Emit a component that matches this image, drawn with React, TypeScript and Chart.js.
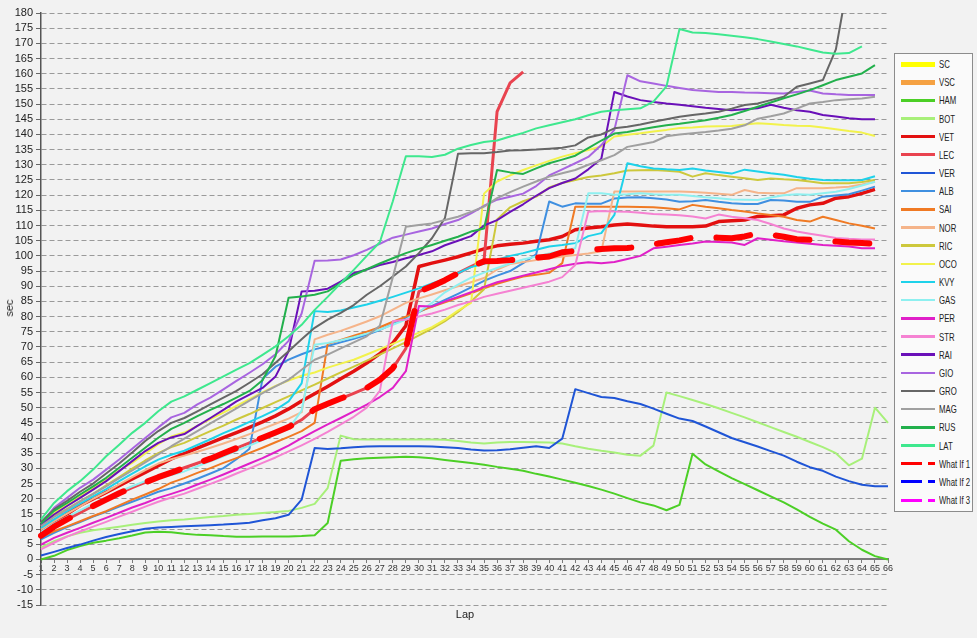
import React, { useEffect, useRef } from "react";
import { Chart, registerables } from "chart.js";

Chart.register(...registerables);

const FONT = "'Liberation Sans', Arial, Helvetica, sans-serif";

const LAPS: string[] = Array.from({ length: 66 }, (_, i) => String(i + 1));
const Y_MIN = -15;
const Y_MAX = 180;
const Y_STEP = 5;

const SC: number[] = [];
const VSC: number[] = [];
const HAM = [0, 1.2, 3.1, 4.4, 5.5, 6.2, 7.0, 7.9, 8.9, 9.1, 9.0, 8.5, 8.1, 8.0, 7.7, 7.5, 7.5, 7.6, 7.6, 7.6, 7.7, 8.0, 12.0, 32.5, 33.0, 33.3, 33.5, 33.7, 33.8, 33.7, 33.3, 32.8, 32.3, 31.8, 31.2, 30.5, 29.9, 29.2, 28.2, 27.3, 26.3, 25.3, 24.2, 23.0, 21.7, 20.2, 18.8, 17.8, 16.2, 18.0, 34.8, 31.3, 29.0, 26.8, 24.8, 22.8, 20.8, 18.8, 16.5, 14.0, 11.8, 9.8, 6.0, 3.2, 1.1, 0];
const BOT = [4.0, 6.0, 7.6, 8.8, 9.6, 10.2, 10.8, 11.4, 12.0, 12.5, 12.9, 13.2, 13.6, 14.0, 14.3, 14.7, 15.0, 15.3, 15.6, 16.0, 17.0, 18.3, 23.5, 40.8, 39.6, 39.5, 39.5, 39.5, 39.5, 39.5, 39.5, 39.4, 39.0, 38.5, 38.2, 38.5, 38.7, 38.7, 38.6, 38.5, 38.2, 37.3, 36.5, 35.8, 35.2, 34.5, 34.2, 37.5, 55.0, 53.8, 52.5, 51.2, 49.8, 48.3, 46.8, 45.2, 43.6, 42.0, 40.4, 38.7, 37.0, 35.0, 31.0, 33.2, 50.0, 45.0];
const VET = [9.0, 12.3, 15.0, 17.8, 19.9, 22.1, 24.3, 26.5, 28.7, 30.9, 33.1, 34.9, 36.7, 38.4, 40.1, 41.8, 43.5, 45.3, 47.3, 49.6, 52.2, 54.6, 57.0, 59.5, 62.0, 64.7, 67.8, 71.3, 77.0, 96.5, 97.6, 98.6, 99.7, 101.0, 102.3, 103.3, 103.8, 104.2, 104.8, 105.3, 106.4, 108.6, 109.2, 109.6, 110.2, 110.5, 110.2, 109.8, 109.6, 109.6, 109.6, 109.8, 111.3, 111.6, 111.8, 113.0, 113.2, 113.5, 115.7, 116.8, 117.3, 119.0, 119.5, 120.6, 121.9];
const LEC = [7.8, 10.8, 13.2, 15.4, 17.6, 19.7, 21.8, 23.7, 25.4, 27.1, 28.6, 30.2, 31.7, 33.2, 35.0, 36.7, 38.4, 40.1, 41.8, 43.6, 46.0, 49.5, 51.3, 53.0, 54.7, 56.5, 59.2, 63.0, 69.5, 88.2, 90.0, 92.0, 94.3, 96.5, 98.5, 147.5, 157.0, 160.6];
const VER = [1.3, 2.5, 3.8, 4.9, 6.2, 7.4, 8.4, 9.3, 10.1, 10.5, 10.7, 10.9, 11.1, 11.3, 11.5, 11.8, 12.1, 12.9, 13.6, 14.7, 19.7, 36.7, 36.4, 36.6, 37.0, 37.2, 37.3, 37.3, 37.3, 37.3, 37.2, 37.0, 36.7, 36.2, 35.9, 36.0, 36.3, 36.8, 37.3, 36.7, 39.8, 56.1, 54.8, 53.5, 53.2, 52.1, 51.2, 49.7, 48.0, 46.4, 45.6, 43.8, 41.9, 40.0, 38.6, 37.2, 35.7, 34.2, 32.2, 30.4, 29.2, 27.3, 25.8, 24.6, 24.1, 24.1];
const ALB = [6.6, 8.8, 10.7, 12.3, 14.1, 15.7, 17.4, 19.0, 20.6, 22.3, 23.5, 25.0, 26.6, 28.3, 30.1, 33.0, 36.5, 59.5, 63.5, 65.8, 67.6, 69.2, 70.3, 71.5, 72.7, 74.0, 75.6, 77.5, 79.5, 81.5, 83.5, 85.5, 87.5, 89.6, 91.8, 93.5, 95.0, 97.6, 100.5, 117.9, 116.2, 117.3, 117.2, 117.2, 118.9, 119.2, 119.3, 119.0, 118.6, 117.8, 118.0, 118.4, 117.8, 117.3, 117.1, 117.1, 118.4, 118.2, 117.8, 117.8, 119.5, 119.9, 120.3, 121.5, 122.8];
const SAI = [7.4, 9.3, 10.9, 12.6, 14.3, 15.9, 17.8, 19.7, 21.4, 23.2, 25.3, 26.8, 28.5, 30.1, 31.8, 33.4, 35.1, 36.8, 38.6, 40.4, 42.3, 45.0, 71.0, 72.3, 73.7, 75.0, 76.5, 78.3, 80.0, 81.7, 83.2, 84.7, 86.2, 87.7, 89.3, 90.8, 92.0, 93.2, 93.8, 94.4, 97.6, 116.2, 116.2, 116.2, 116.2, 116.2, 116.1, 116.0, 115.7, 115.3, 116.8, 116.2, 115.7, 115.1, 114.6, 114.0, 113.5, 112.9, 111.8, 111.3, 112.9, 111.8, 110.7, 109.9, 109.0];
const NOR = [9.9, 12.6, 15.1, 17.5, 20.0, 22.2, 24.7, 27.1, 29.4, 31.6, 33.0, 34.2, 35.5, 36.8, 38.2, 39.7, 41.3, 43.0, 44.7, 46.4, 48.5, 72.5, 74.0, 75.3, 76.8, 78.4, 80.1, 82.3, 84.5, 86.0, 87.3, 88.7, 90.0, 91.3, 92.7, 95.5, 97.3, 98.0, 98.6, 99.2, 99.8, 100.3, 100.8, 101.5, 121.2, 121.2, 121.2, 121.2, 121.2, 121.2, 121.0, 120.8, 120.5, 120.1, 121.7, 120.8, 120.6, 120.6, 122.3, 122.3, 122.3, 122.5, 122.8, 123.5, 124.4];
const RIC = [11.2, 14.3, 16.7, 19.2, 21.6, 24.4, 27.1, 29.9, 32.6, 35.0, 37.0, 38.4, 40.4, 42.3, 44.1, 46.1, 47.9, 49.9, 51.8, 53.7, 55.7, 57.6, 59.6, 61.6, 63.5, 65.5, 67.5, 69.5, 71.6, 73.8, 76.0, 78.5, 81.5, 85.0, 89.0, 112.0, 116.0, 118.0, 119.5, 122.5, 124.0, 125.0, 126.0, 126.5, 127.2, 128.1, 128.2, 128.3, 128.0, 127.7, 126.1, 127.2, 126.6, 126.1, 125.6, 125.0, 125.5, 125.2, 125.0, 124.5, 123.9, 123.9, 123.9, 124.3, 125.0];
const OCO = [12.0, 15.4, 18.1, 20.8, 23.6, 26.3, 29.3, 31.8, 34.9, 38.0, 40.5, 41.8, 44.0, 46.2, 48.4, 50.6, 52.8, 55.0, 57.2, 58.9, 60.5, 61.6, 63.2, 64.5, 65.8, 67.5, 69.3, 71.0, 72.8, 74.7, 76.5, 79.0, 82.0, 84.5, 120.5, 124.5, 126.5, 128.3, 129.8, 131.3, 132.7, 133.8, 134.9, 136.0, 139.3, 139.9, 140.4, 141.0, 141.5, 142.1, 142.3, 142.6, 142.7, 142.8, 143.3, 143.7, 143.4, 143.1, 142.9, 142.8, 142.3, 141.7, 141.1, 140.6, 139.5];
const KVY = [10.4, 13.2, 15.9, 18.4, 20.8, 23.2, 25.8, 28.3, 30.7, 32.9, 34.5, 35.8, 37.7, 39.6, 41.6, 43.4, 45.3, 47.2, 49.3, 52.1, 58.0, 81.8, 81.5, 82.0, 83.0, 84.0, 85.2, 86.5, 87.9, 89.3, 90.9, 92.4, 94.3, 96.3, 97.4, 98.7, 100.0, 100.9, 102.0, 103.1, 103.6, 104.2, 106.5, 107.5, 113.5, 130.5, 129.5, 128.8, 128.5, 128.3, 128.8, 128.1, 127.6, 127.1, 128.4, 127.8, 127.2, 126.7, 126.0, 125.4, 125.0, 124.9, 124.9, 125.0, 126.2];
const GAS = [9.1, 11.8, 14.0, 16.2, 18.4, 20.4, 22.3, 24.1, 25.8, 27.2, 27.8, 29.0, 30.7, 32.3, 34.0, 35.8, 37.5, 39.3, 41.1, 43.0, 49.0, 70.7, 71.3, 72.2, 73.2, 74.4, 75.7, 77.3, 79.0, 81.5, 84.5, 88.0, 90.5, 92.8, 94.5, 96.0, 97.5, 98.8, 99.8, 100.8, 101.7, 102.5, 120.6, 120.6, 120.1, 120.3, 120.6, 120.3, 120.1, 120.1, 119.7, 119.3, 119.0, 118.6, 118.5, 118.4, 119.2, 120.0, 120.3, 120.1, 120.6, 121.1, 122.0, 123.2, 124.4];
const PER = [4.9, 7.1, 8.8, 10.4, 12.1, 13.7, 15.4, 17.1, 18.6, 20.3, 21.6, 23.0, 24.7, 26.3, 28.0, 29.8, 31.6, 33.4, 35.4, 37.5, 40.0, 42.3, 44.5, 46.6, 48.8, 51.0, 53.5, 56.5, 62.0, 83.5, 83.3, 85.0, 86.5, 88.0, 89.8, 91.3, 92.4, 93.5, 94.5, 95.6, 96.7, 97.4, 97.9, 97.6, 98.0, 99.0, 100.0, 102.5, 103.0, 103.6, 104.1, 104.7, 104.6, 104.4, 103.6, 105.8, 105.3, 104.8, 104.4, 104.0, 103.6, 103.3, 103.1, 102.5, 102.5];
const STR = [3.3, 5.5, 7.5, 9.2, 10.8, 12.4, 14.1, 15.7, 17.4, 19.0, 20.4, 21.7, 23.3, 24.9, 26.5, 28.3, 30.0, 31.8, 33.6, 35.6, 37.6, 39.7, 42.0, 44.5, 47.0, 50.0, 55.5, 78.5, 79.0, 80.0, 81.0, 82.3, 83.8, 85.0, 86.5, 87.5, 88.5, 89.5, 90.5, 91.5, 93.0, 97.0, 114.5, 114.8, 114.6, 114.5, 114.2, 113.8, 113.6, 113.4, 113.0, 112.3, 113.6, 112.9, 112.4, 111.8, 110.5, 109.0, 108.0, 107.3, 106.6, 105.9, 105.6, 105.4, 105.4];
const RAI = [11.4, 14.8, 17.6, 20.3, 23.0, 25.8, 29.1, 32.4, 35.7, 38.4, 40.2, 41.3, 44.0, 46.6, 49.3, 52.1, 54.3, 56.5, 60.3, 68.6, 88.3, 88.5, 89.2, 91.5, 94.3, 95.5, 97.0, 98.0, 99.2, 100.3, 101.5, 103.5, 105.0, 106.5, 110.0, 111.8, 114.5, 117.0, 119.8, 122.3, 124.0, 125.5, 128.5, 132.0, 154.0, 152.5, 151.3, 150.7, 150.2, 149.8, 149.3, 148.8, 148.4, 148.0, 148.3, 148.6, 149.8, 148.8, 148.0, 147.5, 146.4, 145.9, 145.3, 145.0, 145.0];
const GIO = [12.0, 17.0, 20.3, 23.6, 26.3, 29.6, 32.9, 36.5, 40.0, 43.5, 46.8, 48.3, 51.1, 53.3, 56.0, 58.8, 61.5, 64.3, 67.6, 72.0, 81.0, 98.4, 98.5, 98.8, 100.2, 102.0, 104.0, 106.0, 107.0, 108.0, 109.0, 110.5, 111.8, 114.0, 116.5, 118.5, 119.5, 120.5, 123.0, 126.5, 128.5, 130.5, 132.6, 136.5, 141.5, 159.5, 157.5, 156.8, 156.0, 155.3, 154.6, 154.3, 154.0, 154.0, 153.8, 153.7, 153.6, 153.5, 154.0, 154.5, 153.5, 153.2, 153.0, 153.0, 153.0];
const GRO = [12.3, 16.5, 19.3, 22.3, 25.0, 28.3, 31.6, 35.2, 39.0, 42.3, 45.0, 46.6, 48.8, 51.1, 53.3, 55.5, 58.2, 61.0, 64.8, 68.6, 72.5, 76.3, 79.0, 81.2, 83.8, 87.2, 90.0, 93.2, 96.5, 100.9, 105.8, 112.5, 133.6, 133.8, 133.8, 134.2, 134.7, 134.8, 135.0, 135.3, 135.6, 136.4, 139.0, 140.0, 142.0, 142.5, 143.3, 144.2, 145.0, 145.8, 146.4, 146.9, 147.5, 148.5, 149.7, 150.2, 151.3, 152.4, 155.7, 156.8, 157.9, 168.0, 192.0, 197.0, 200.0];
const MAG = [11.0, 14.0, 16.5, 19.1, 21.6, 24.1, 26.8, 29.3, 32.0, 34.6, 37.3, 39.8, 42.3, 44.8, 47.3, 49.8, 52.3, 54.8, 57.0, 59.2, 62.5, 65.8, 67.5, 69.5, 71.5, 73.5, 77.0, 93.0, 109.6, 110.2, 110.7, 111.8, 112.9, 114.5, 116.2, 119.0, 121.0, 122.8, 124.5, 126.1, 127.2, 128.3, 130.0, 131.5, 133.2, 135.9, 136.7, 137.5, 139.4, 140.0, 140.4, 140.8, 141.3, 141.9, 143.0, 145.2, 146.0, 146.9, 148.5, 150.2, 150.7, 151.3, 151.6, 151.8, 152.4];
const RUS = [11.8, 16.0, 18.6, 21.4, 24.1, 26.9, 30.2, 33.5, 36.8, 40.1, 43.0, 45.0, 47.2, 49.3, 51.2, 53.3, 55.5, 59.0, 67.0, 86.2, 86.6, 87.2, 88.3, 91.0, 93.7, 95.6, 97.5, 99.2, 100.9, 102.3, 103.6, 105.0, 106.3, 108.0, 109.0, 128.3, 127.5, 127.0, 128.8, 130.5, 131.7, 133.0, 135.5, 138.0, 140.3, 140.8, 141.6, 142.4, 143.0, 143.5, 144.1, 144.7, 145.5, 146.4, 147.7, 149.1, 150.5, 151.9, 153.2, 154.6, 156.2, 157.9, 159.0, 160.1, 162.8];
const LAT = [13.2, 18.6, 22.5, 25.8, 29.6, 34.0, 37.8, 41.7, 45.0, 48.8, 52.0, 53.7, 55.9, 58.1, 60.3, 62.5, 64.7, 67.4, 70.2, 73.5, 77.3, 82.2, 86.5, 91.0, 95.4, 100.0, 104.5, 118.0, 132.8, 132.8, 132.6, 133.3, 135.3, 136.5, 137.5, 138.0, 139.3, 140.5, 142.0, 143.0, 144.0, 145.0, 146.3, 147.5, 148.0, 148.3, 148.6, 150.8, 155.8, 174.7, 173.6, 173.4, 173.0, 172.5, 172.0, 171.4, 170.6, 169.8, 169.0, 168.0, 167.0, 166.6, 166.8, 169.0];
const WHAT_IF_1 = [7.8, 10.8, 13.2, 15.4, 17.6, 19.7, 21.8, 23.7, 25.4, 27.1, 28.6, 30.2, 31.7, 33.2, 35.0, 36.7, 38.4, 40.1, 41.8, 43.6, 46.0, 49.5, 51.3, 53.0, 54.7, 56.5, 59.2, 63.0, 69.5, 88.2, 90.0, 92.0, 94.3, 96.5, 98.2, 98.3, 98.6, 99.0, 99.4, 99.8, 101.2, 101.6, 102.0, 102.3, 102.5, 102.6, 103.0, 103.8, 104.5, 105.1, 106.0, 106.1, 106.0, 105.8, 106.4, 107.4, 107.0, 106.3, 105.5, 105.3, 105.0, 104.7, 104.4, 104.2, 104.0];
const WHAT_IF_2: number[] = [];
const WHAT_IF_3: number[] = [];

type Series = { name: string; data: number[]; color: string; width: number; dashed?: boolean };

const SERIES: Series[] = [
  { name: "SC", data: SC, color: "#ffff00", width: 5 },
  { name: "VSC", data: VSC, color: "#f5a142", width: 5 },
  { name: "HAM", data: HAM, color: "#4ccf26", width: 2 },
  { name: "BOT", data: BOT, color: "#a8f07a", width: 2 },
  { name: "VET", data: VET, color: "#e31010", width: 3.5 },
  { name: "LEC", data: LEC, color: "#e9434f", width: 3 },
  { name: "VER", data: VER, color: "#1f55d6", width: 2 },
  { name: "ALB", data: ALB, color: "#3f8fe0", width: 2 },
  { name: "SAI", data: SAI, color: "#f07a24", width: 2 },
  { name: "NOR", data: NOR, color: "#f5b48a", width: 2 },
  { name: "RIC", data: RIC, color: "#cdc83c", width: 2 },
  { name: "OCO", data: OCO, color: "#f2f24c", width: 2 },
  { name: "KVY", data: KVY, color: "#1ed2ea", width: 2 },
  { name: "GAS", data: GAS, color: "#8ef0f0", width: 2 },
  { name: "PER", data: PER, color: "#e020c8", width: 2 },
  { name: "STR", data: STR, color: "#f582d2", width: 2 },
  { name: "RAI", data: RAI, color: "#6a10b8", width: 2 },
  { name: "GIO", data: GIO, color: "#a865e0", width: 2 },
  { name: "GRO", data: GRO, color: "#666666", width: 2 },
  { name: "MAG", data: MAG, color: "#a0a0a0", width: 2 },
  { name: "RUS", data: RUS, color: "#22b04c", width: 2 },
  { name: "LAT", data: LAT, color: "#3ee88e", width: 2 },
  { name: "What If 1", data: WHAT_IF_1, color: "#ff0000", width: 6, dashed: true },
  { name: "What If 2", data: WHAT_IF_2, color: "#0000ff", width: 6, dashed: true },
  { name: "What If 3", data: WHAT_IF_3, color: "#ff00ff", width: 6, dashed: true },
];

function Legend() {
  return (
    <div
      style={{
        position: "absolute",
        left: 894,
        top: 53,
        width: 79,
        height: 459,
        background: "#fafafa",
        border: "1px solid #8c8c8c",
        boxSizing: "border-box",
      }}
    >
      {SERIES.map((s, i) => {
        const cy = 10 + i * 18.17;
        const lw = s.dashed ? 3 : s.width >= 5 ? 5 : s.width >= 3 ? 3 : 2.5;
        return (
          <div key={s.name}>
            {s.dashed ? (
              <>
                <div style={{ position: "absolute", left: 6, top: cy - lw / 2, width: 21, height: lw, background: s.color }} />
                <div style={{ position: "absolute", left: 33, top: cy - lw / 2, width: 7, height: lw, background: s.color }} />
              </>
            ) : (
              <div style={{ position: "absolute", left: 6, top: cy - lw / 2, width: 34, height: lw, background: s.color }} />
            )}
            <span
              style={{
                position: "absolute",
                left: 44,
                top: cy - 7,
                lineHeight: "14px",
                fontSize: 10.5,
                fontFamily: FONT,
                color: "#222",
                whiteSpace: "nowrap",
                transform: "scaleX(0.74)",
                transformOrigin: "left center",
              }}
            >
              {s.name}
            </span>
          </div>
        );
      })}
    </div>
  );
}

export default function App() {
  const ref = useRef<HTMLCanvasElement | null>(null);

  useEffect(() => {
    if (!ref.current) return;
    const n = SERIES.length;
    const chart = new Chart(ref.current, {
      type: "line",
      data: {
        labels: LAPS,
        datasets: SERIES.map((s, i) => ({
          label: s.name,
          data: s.data,
          borderColor: s.color,
          backgroundColor: s.color,
          borderWidth: s.width,
          borderDash: s.dashed ? [34, 26] : [],
          borderCapStyle: s.dashed ? "round" : "butt",
          borderJoinStyle: "round",
          pointRadius: 0,
          tension: 0,
          fill: false,
          order: n - i,
        })),
      },
      options: {
        responsive: false,
        animation: false,
        devicePixelRatio: window.devicePixelRatio || 1,
        layout: { padding: { top: 13, right: 89, bottom: 33, left: 0 } },
        plugins: {
          legend: { display: false },
          tooltip: { enabled: false },
        },
        scales: {
          x: {
            type: "category",
            position: { y: 0 } as any,
            offset: false,
            grid: {
              display: true,
              drawOnChartArea: false,
              drawTicks: true,
              tickLength: 3,
              color: "#7a7a7a",
              tickColor: "#7a7a7a",
            },
            border: { display: true, color: "#7a7a7a", width: 2 },
            ticks: {
              autoSkip: false,
              maxRotation: 0,
              minRotation: 0,
              padding: 1,
              color: "#333",
              font: { size: 9, family: FONT },
            },
          },
          y: {
            type: "linear",
            min: Y_MIN,
            max: Y_MAX,
            afterFit: (scale: any) => {
              scale.width = 41;
            },
            ticks: {
              stepSize: Y_STEP,
              autoSkip: false,
              color: "#222",
              padding: 3,
              font: { size: 11, family: FONT },
            },
            grid: {
              color: "#9a9a9a",
              lineWidth: 1,
              drawTicks: true,
              tickLength: 5,
              tickColor: "#666",
            },
            border: { display: true, color: "#555", width: 1.5, dash: [5, 3] },
          },
        },
      },
    });
    return () => chart.destroy();
  }, []);

  return (
    <div style={{ position: "absolute", left: 0, top: 0, width: 977, height: 638, background: "#f2f2f2", overflow: "hidden" }}>
      <canvas ref={ref} width={977} height={638} style={{ position: "absolute", left: 0, top: 0, width: 977, height: 638 }} />
      <div
        style={{
          position: "absolute",
          left: 9,
          top: 308,
          transform: "translate(-50%, -50%) rotate(-90deg)",
          fontFamily: FONT,
          fontSize: 11,
          color: "#222",
        }}
      >
        sec
      </div>
      <div
        style={{
          position: "absolute",
          left: 465,
          top: 614,
          transform: "translate(-50%, -50%)",
          fontFamily: FONT,
          fontSize: 11,
          color: "#222",
        }}
      >
        Lap
      </div>
      <Legend />
    </div>
  );
}
